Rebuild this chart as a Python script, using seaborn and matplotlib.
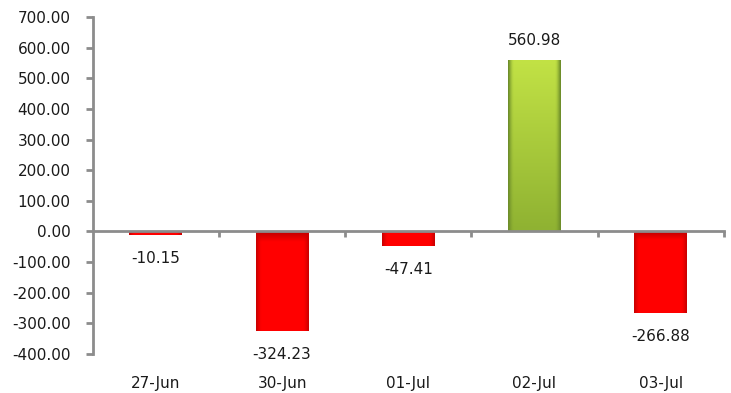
import numpy as np
import pandas as pd
import matplotlib
matplotlib.use("Agg")
import matplotlib.pyplot as plt
import matplotlib.transforms as mtransforms
from matplotlib.colors import to_rgb
import seaborn as sns

# Daily net flows
dates = ["27-Jun", "30-Jun", "01-Jul", "02-Jul", "03-Jul"]
values = [-10.15, -324.23, -47.41, 560.98, -266.88]
y_ticks = [-400, -300, -200, -100, 0, 100, 200, 300, 400, 500, 600, 700]

sns.set_theme(style="white")
plt.rcParams["font.family"] = ["DejaVu Sans"]

df = pd.DataFrame({"date": dates, "value": values})
df["sign"] = np.where(df["value"] >= 0, "pos", "neg")

fig = plt.figure(figsize=(7.31, 3.93), dpi=100)
ax = fig.add_axes([0.127, 0.099, 0.863, 0.858])

palette = {"neg": "#ff0000", "pos": "#a8cc38"}
sns.barplot(data=df, x="date", y="value", hue="sign", palette=palette,
            dodge=False, width=0.42, legend=False, ax=ax, saturation=1)

# Shaded fill for each bar: darker toward the sides
for patch in list(ax.patches):
    x0, y0 = patch.get_x(), patch.get_y()
    w, h = patch.get_width(), patch.get_height()
    if w == 0 or h == 0:
        continue
    base = np.array(to_rgb(patch.get_facecolor()))
    positive = h > 0
    ny, nx = 60, 40
    xs = np.linspace(-1, 1, nx)
    side = np.clip((np.abs(xs) - 0.80) / 0.20, 0, 1) ** 1.5
    img = np.zeros((ny, nx, 3))
    if positive:
        top = np.array(to_rgb("#c2e245"))
        bot = np.array(to_rgb("#8fb232"))
        edge = np.array(to_rgb("#6e8e2a"))
        for i in range(ny):
            t = i / (ny - 1)
            col = top * (1 - t) + bot * t
            img[i] = col[None, :] * (1 - side[:, None]) + edge[None, :] * side[:, None]
    else:
        edge = np.array(to_rgb("#cc0000"))
        for i in range(ny):
            t = i / (ny - 1)
            bottom_shade = np.clip((t - 0.9) / 0.1, 0, 1) * 0.25
            col = base * (1 - bottom_shade)
            img[i] = col[None, :] * (1 - side[:, None]) + edge[None, :] * side[:, None]
    y_lo, y_hi = min(y0, y0 + h), max(y0, y0 + h)
    im = ax.imshow(img, extent=(x0, x0 + w, y_lo, y_hi) if positive else (x0, x0 + w, y_hi, y_lo),
                   origin="upper", aspect="auto", zorder=patch.get_zorder() + 0.1,
                   interpolation="bilinear")
    im.set_clip_path(patch)

ax.set_xlim(-0.5, 4.5)
ax.set_ylim(-400, 700)
ax.set_yticks(y_ticks)
ax.set_yticklabels([f"{v:.2f}" for v in y_ticks])

axis_gray = "#8c8c8c"
for s in ["top", "right"]:
    ax.spines[s].set_visible(False)
ax.spines["left"].set_color(axis_gray)
ax.spines["left"].set_linewidth(2)
ax.spines["bottom"].set_position(("data", 0))
ax.spines["bottom"].set_color(axis_gray)
ax.spines["bottom"].set_linewidth(2)
ax.spines["bottom"].set_zorder(5)

ax.tick_params(axis="y", direction="out", length=5, width=2, color=axis_gray,
               labelsize=11, labelcolor="#1a1a1a", pad=11, left=True)
ax.set_xticks([0.5, 1.5, 2.5, 3.5, 4.5])
ax.tick_params(axis="x", direction="out", length=4, width=2, color=axis_gray,
               labelbottom=False, bottom=True)
ax.set_xlabel("")
ax.set_ylabel("")
ax.grid(False)

# Category names along the bottom of the figure
trans = mtransforms.blended_transform_factory(ax.transData, fig.transFigure)
for i, d in enumerate(dates):
    ax.text(i, 0.025, d, transform=trans, ha="center", va="center",
            fontsize=11, color="#1a1a1a")

# Value labels
for i, v in enumerate(values):
    off = 14 if v > 0 else -17
    ax.annotate(f"{v:.2f}", xy=(i, v), xytext=(0, off), textcoords="offset points",
                ha="center", va="center", fontsize=11, color="#1a1a1a")

fig.savefig("out.png", dpi=100, facecolor="white")
